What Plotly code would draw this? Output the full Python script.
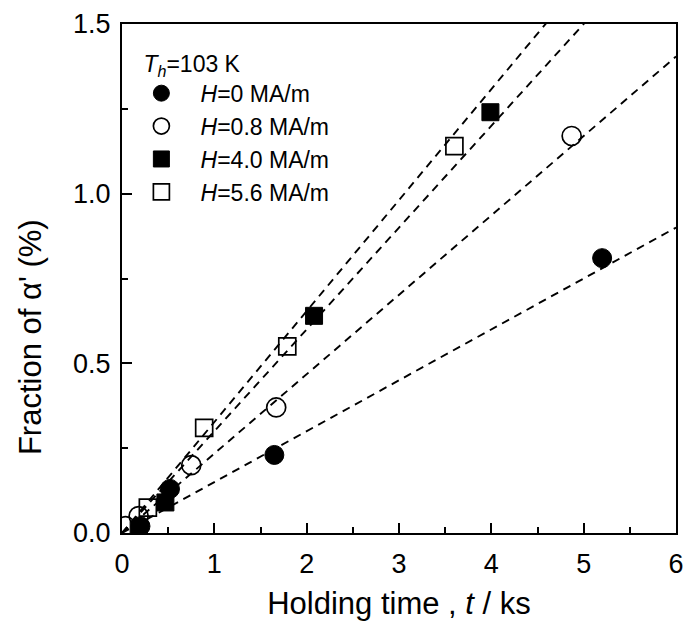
import numpy as np
import plotly.graph_objects as go

# Holding time t (ks) and martensite fraction (%) for each applied field
t_h0 = [0.20, 0.52, 1.65, 5.20]
f_h0 = [0.02, 0.13, 0.23, 0.81]

t_h08 = [0.04, 0.18, 0.75, 1.67, 4.87]
f_h08 = [0.02, 0.05, 0.20, 0.37, 1.17]

t_h40 = [0.18, 0.47, 2.08, 3.99]
f_h40 = [0.01, 0.09, 0.64, 1.24]

t_h56 = [0.28, 0.89, 1.79, 3.60]
f_h56 = [0.075, 0.31, 0.55, 1.14]

# Linear fits (slope in %/ks) drawn as dashed lines
fit_slopes = [0.150, 0.234, 0.300, 0.327]

series_names = ["<i>H</i>=0 MA/m", "<i>H</i>=0.8 MA/m",
                "<i>H</i>=4.0 MA/m", "<i>H</i>=5.6 MA/m"]

FONT = "Liberation Sans, Arial, sans-serif"
PAD = "\u00a0\u00a0\u00a0"  # gap between legend symbol and label

fig = go.Figure()

t_line = np.array([0.0, 6.0])
for s in fit_slopes:
    fig.add_trace(go.Scatter(
        x=t_line, y=s * t_line, mode="lines",
        line=dict(color="black", width=1.9, dash="8px,6px"),
        showlegend=False, hoverinfo="skip"))

marker_styles = [
    dict(symbol="circle", size=19, color="black", line=dict(color="black", width=1)),
    dict(symbol="circle-open", size=19, color="black", line=dict(color="black", width=1.7)),
    dict(symbol="square", size=17, color="black", line=dict(color="black", width=1)),
    dict(symbol="square-open", size=17, color="black", line=dict(color="black", width=1.7)),
]
for i, ((tx, fy), name, mk) in enumerate(zip(
        [(t_h0, f_h0), (t_h08, f_h08), (t_h40, f_h40), (t_h56, f_h56)],
        series_names, marker_styles)):
    fig.add_trace(go.Scatter(x=tx, y=fy, mode="markers", name=PAD + name,
                             legendgroup=f"g{i}", marker=mk, cliponaxis=True))

axis_common = dict(
    showline=True, linecolor="black", linewidth=2, mirror=True,
    ticks="inside", ticklen=10, tickwidth=1.6, tickcolor="black",
    showgrid=False, zeroline=False, automargin=False,
    ticklabeloverflow="allow",
    tickfont=dict(family=FONT, size=27, color="black"),
)

fig.update_xaxes(
    range=[0, 6], dtick=1, tickformat="d", ticklabelstandoff=6,
    minor=dict(ticks="inside", ticklen=6, tickwidth=1.6, tickcolor="black", dtick=0.5),
    title=dict(text="Holding time , <i>t</i> / ks",
               font=dict(family=FONT, size=31, color="black"), standoff=14),
    **axis_common)
fig.update_yaxes(
    range=[0, 1.5], dtick=0.5, tickformat=".1f", ticklabelstandoff=4,
    minor=dict(ticks="inside", ticklen=6, tickwidth=1.6, tickcolor="black", dtick=0.25),
    **axis_common)

# y-axis title placed as a rotated annotation
fig.add_annotation(
    text="Fraction of α' (%)", textangle=-90,
    xref="paper", yref="paper", x=-0.166, y=0.385,
    xanchor="center", yanchor="middle", showarrow=False,
    font=dict(family=FONT, size=31, color="black"))

fig.update_layout(
    width=683, height=632,
    margin=dict(l=122, r=7, t=24, b=99),
    plot_bgcolor="white", paper_bgcolor="white",
    legend=dict(
        x=0.035, y=0.965, xanchor="left", yanchor="top",
        title=dict(text="<i>T</i><sub><i>h</i></sub>=103 K",
                   font=dict(family=FONT, size=23, color="black")),
        font=dict(family=FONT, size=23, color="black"),
        bgcolor="rgba(0,0,0,0)", borderwidth=0,
        itemwidth=30, tracegroupgap=0, traceorder="grouped",
    ),
)

fig.write_html("out.html")
